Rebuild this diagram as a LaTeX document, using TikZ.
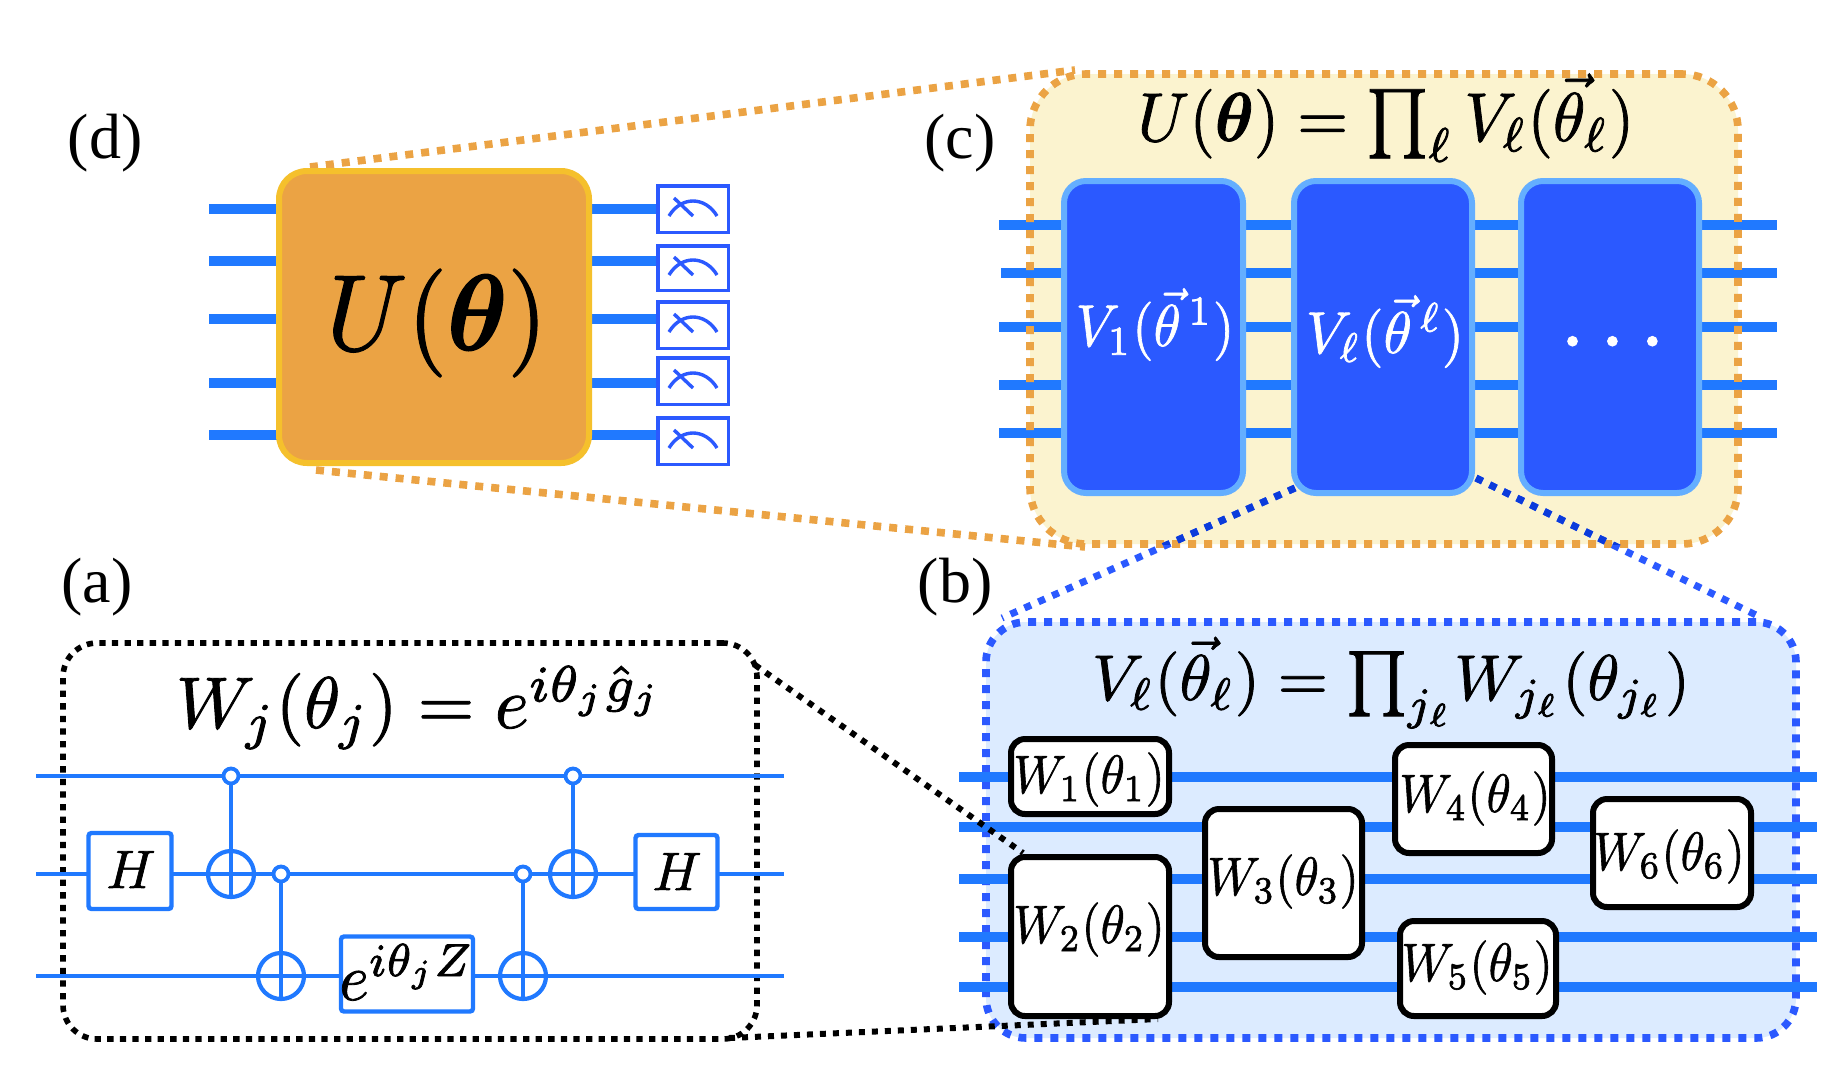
\documentclass[tikz,border=0pt]{standalone}
\usepackage{amsmath,amssymb}
\usepackage[no-math]{fontspec}
\newfontfamily\labelfont{Liberation Serif}
\definecolor{wireblue}{HTML}{2079FF}
\definecolor{gateblue}{HTML}{2B59FF}
\definecolor{gateedge}{HTML}{64AEFF}
\definecolor{deepblue}{HTML}{0B3BDB}
\definecolor{ochre}{HTML}{EBA344}
\definecolor{amber}{HTML}{F5C02C}
\definecolor{cream}{HTML}{FBF3CF}
\definecolor{paleblue}{HTML}{DCEBFF}
\newcommand{\lab}[1]{\fontsize{32}{32}\labelfont #1}
\newcommand{\heavy}[1]{\special{pdf:code 2 Tr 0.12 w}#1\special{pdf:code 0 Tr}}
\newcommand{\rbox}[6]{% name x1 y1 x2 y2 style (centre line)
  \pgfmathsetmacro{\bw}{(#4-#2)*0.5}\pgfmathsetmacro{\bh}{(#5-#3)*0.5}
  \node[#6,minimum width=\bw pt,minimum height=\bh pt,inner sep=0pt] (#1) at ({(#2+#4)/2},{(#3+#5)/2}) {};}
\tikzset{
  x=0.5pt,y=-0.5pt,
  wirethick/.style={draw=wireblue,line width=5pt},
  wirethin/.style={draw=wireblue,line width=1.9pt},
  ubox/.style={draw=amber,fill=ochre,line width=3pt,rounded corners=14pt},
  meterbox/.style={draw=gateblue,fill=white,line width=1.75pt},
  meterglyph/.style={draw=gateblue,line width=1.7pt},
  cpanel/.style={fill=cream,rounded corners=28pt},
  cborder/.style={draw=ochre,line width=3.8pt,dash pattern=on 4pt off 4pt,rounded corners=28pt},
  bpanel/.style={fill=paleblue,rounded corners=20pt},
  bborder/.style={draw=gateblue,line width=3.8pt,dash pattern=on 4pt off 4pt,rounded corners=20pt},
  aborder/.style={draw=black,line width=2.8pt,dash pattern=on 3.15pt off 3.15pt,rounded corners=17pt},
  vgate/.style={draw=gateedge,fill=gateblue,line width=3pt,rounded corners=11pt},
  wgate/.style={draw=black,fill=white,line width=3pt,rounded corners=7pt},
  qgate/.style={draw=wireblue,fill=white,line width=2.2pt,rounded corners=1.5pt},
  orangelink/.style={draw=ochre,line width=3.8pt,dash pattern=on 4pt off 4pt},
  bluelink/.style={line width=3.5pt,dash pattern=on 3.6pt off 4pt},
  blacklink/.style={draw=black,line width=3pt,dash pattern=on 3pt off 3.5pt},
  txt/.style={anchor=base,inner sep=0pt,text=black},
  wtxt/.style={anchor=base,inner sep=0pt,text=white},
  ctrl/.style={circle,draw=wireblue,fill=white,line width=1.9pt,minimum size=7.5pt,inner sep=0pt},
  targ/.style={circle,draw=wireblue,line width=2.1pt,minimum size=23pt,inner sep=0pt},
  ctlline/.style={draw=wireblue,line width=1.9pt},
}
\begin{document}
\begin{tikzpicture}
\useasboundingbox (0,0) rectangle (1846,1082);
\fill[white] (0,0) rectangle (1846,1082);

% link end points
\coordinate (oa) at (310,167);   \coordinate (ob) at (1075,70);
\coordinate (oc) at (316,470);   \coordinate (od) at (1085,547);
\coordinate (ba) at (1295,488);  \coordinate (bb) at (1002,618);
\coordinate (bc) at (1476,478);  \coordinate (bd) at (1758,616);
\coordinate (ka) at (755,665);   \coordinate (kb) at (1023,853);
\coordinate (kc) at (729,1038);  \coordinate (kd) at (1158,1019);

% ---------- panel c
\rbox{cfill}{1030}{74}{1738}{544}{cpanel}
\foreach \n/\y/\xl in {1/225/999,2/273/1001,3/327/999,4/385/999,5/433/999}{
  \coordinate (cL\n) at (\xl,\y); \coordinate (cR\n) at (1777,\y);
  \draw[wirethick] (cL\n) -- (cR\n);
}
\rbox{cedge}{1030}{74}{1738}{544}{cborder}
\draw[orangelink] (oa) -- (ob);
\draw[orangelink] (oc) -- (od);
\draw[bluelink,draw=gateblue] (ba) -- (bb);
\draw[bluelink,draw=gateblue] (bc) -- (bd);
\begin{scope}
  \clip (1030,74) rectangle (1738,544);
  \draw[bluelink,draw=deepblue] (ba) -- (bb);
  \draw[bluelink,draw=deepblue] (bc) -- (bd);
\end{scope}
\rbox{v1}{1064}{181}{1243}{493}{vgate}
\rbox{v2}{1294}{181}{1472}{493}{vgate}
\rbox{v3}{1521}{181}{1699}{493}{vgate}
\node[txt] (ctitle) at (1386,141) {\scalebox{3.27}[3.45]{\heavy{$U(\boldsymbol{\theta})=\prod_{\ell} V_{\ell}(\vec{\theta}_{\ell})$}}};
\node[wtxt] (v1t) at (1155,346) {\scalebox{2.74}[2.95]{\heavy{$V_1(\vec{\theta}^{\,1})$}}};
\node[wtxt] (v2t) at (1385,353) {\scalebox{2.86}[2.95]{\heavy{$V_{\ell}(\vec{\theta}^{\,\ell})$}}};
\node[wtxt] (v3t) at (1620,346) {\scalebox{4.5}{\heavy{$\dots$}}};
\node[txt] (lc) at (960,158) {\lab{(c)}};

% ---------- panel d
\foreach \n/\y in {1/209,2/261,3/319,4/383,5/435}{
  \coordinate (dL\n) at (209,\y); \coordinate (dR\n) at (660,\y);
  \draw[wirethick] (dL\n) -- (dR\n);
}
\rbox{ubig}{279}{171}{589}{463}{ubox}
\node[txt] (utext) at (437,350) {\scalebox{5.09}[5.4]{\heavy{$U(\boldsymbol{\theta})$}}};
\foreach \n/\a/\b in {1/184/234,2/244/292,3/300/350,4/356/406,5/416/466}{
  \pgfmathsetmacro{\ya}{\a+1.75}\pgfmathsetmacro{\yb}{\b-1.75}
  \rbox{m\n}{657.75}{\ya}{728.25}{\yb}{meterbox}
  \draw[meterglyph] ([shift={(-24,7)}]m\n.center) .. controls ([shift={(-12,-13)}]m\n.center) and ([shift={(12,-13)}]m\n.center) .. ([shift={(24,7)}]m\n.center);
  \draw[meterglyph] ([shift={(-19,-11)}]m\n.center) -- ([shift={(0,7)}]m\n.center);
}
\node[txt] (ld) at (105,158) {\lab{(d)}};

% ---------- panel b
\rbox{bfill}{986}{622}{1796}{1038}{bpanel}
\rbox{bedge}{986}{622}{1796}{1038}{bborder}
\foreach \n/\y in {1/777,2/827,3/879,4/937,5/987}{
  \coordinate (bL\n) at (959,\y); \coordinate (bR\n) at (1817,\y);
  \draw[wirethick] (bL\n) -- (bR\n);
}
\node[txt] (btitle) at (1391,700) {\scalebox{3.23}{\heavy{$V_{\ell}(\vec{\theta}_{\ell})=\prod_{j_{\ell}}\! W_{j_{\ell}}(\theta_{j_{\ell}})$}}};
\node[txt] (lb) at (955,602) {\lab{(b)}};

% ---------- panel a
\rbox{aedge}{63}{643}{757}{1039}{aborder}
\foreach \n/\y in {1/776,2/874,3/976}{
  \coordinate (aL\n) at (36,\y); \coordinate (aR\n) at (784,\y);
  \draw[wirethin] (aL\n) -- (aR\n);
}
\draw[blacklink] (ka) -- (kb);
\draw[blacklink] (kc) -- (kd);
\node[txt] (atitle) at (420,728) {\scalebox{3.65}{\heavy{$W_j(\theta_j)=e^{i\theta_j\hat{g}_j}$}}};
\node[txt] (la) at (97,602) {\lab{(a)}};
\rbox{h1}{88.5}{833}{171.5}{909}{qgate}
\rbox{h2}{635.5}{835}{717.5}{909}{qgate}
\rbox{ex}{341}{936.5}{473}{1011.5}{qgate}
\node[txt] (h1t) at (131,888) {\scalebox{2.7}{\heavy{$H$}}};
\node[txt] (h2t) at (677,890) {\scalebox{2.7}{\heavy{$H$}}};
\node[txt] (ext) at (407,1000) {\scalebox{3.15}[3.3]{\heavy{$e^{i\theta_j Z}$}}};
\node[targ] (t1) at (231,874) {};
\node[targ] (t2) at (281,976) {};
\node[targ] (t3) at (523,976) {};
\node[targ] (t4) at (573,874) {};
\node[ctrl] (c1) at (231,776) {};
\node[ctrl] (c2) at (281,874) {};
\node[ctrl] (c3) at (523,874) {};
\node[ctrl] (c4) at (573,776) {};
\draw[ctlline] (c1) -- (t1.south);
\draw[ctlline] (c2) -- (t2.south);
\draw[ctlline] (c3) -- (t3.south);
\draw[ctlline] (c4) -- (t4.south);

% ---------- W gates
\rbox{w1}{1011}{739}{1169}{814}{wgate}
\rbox{w2}{1011}{857}{1169}{1016}{wgate}
\rbox{w3}{1205}{809}{1362}{957}{wgate}
\rbox{w4}{1395}{745}{1552}{853}{wgate}
\rbox{w5}{1400}{921}{1556}{1016}{wgate}
\rbox{w6}{1593}{799}{1751}{907}{wgate}
\node[txt] (w1t) at (1089,793) {\scalebox{2.45}[2.7]{\heavy{$W_1(\theta_1)$}}};
\node[txt] (w2t) at (1089,943) {\scalebox{2.45}[2.7]{\heavy{$W_2(\theta_2)$}}};
\node[txt] (w3t) at (1283,895) {\scalebox{2.45}[2.7]{\heavy{$W_3(\theta_3)$}}};
\node[txt] (w4t) at (1475,812) {\scalebox{2.45}[2.7]{\heavy{$W_4(\theta_4)$}}};
\node[txt] (w5t) at (1477,981) {\scalebox{2.45}[2.7]{\heavy{$W_5(\theta_5)$}}};
\node[txt] (w6t) at (1669,870) {\scalebox{2.45}[2.7]{\heavy{$W_6(\theta_6)$}}};
\end{tikzpicture}
\end{document}
